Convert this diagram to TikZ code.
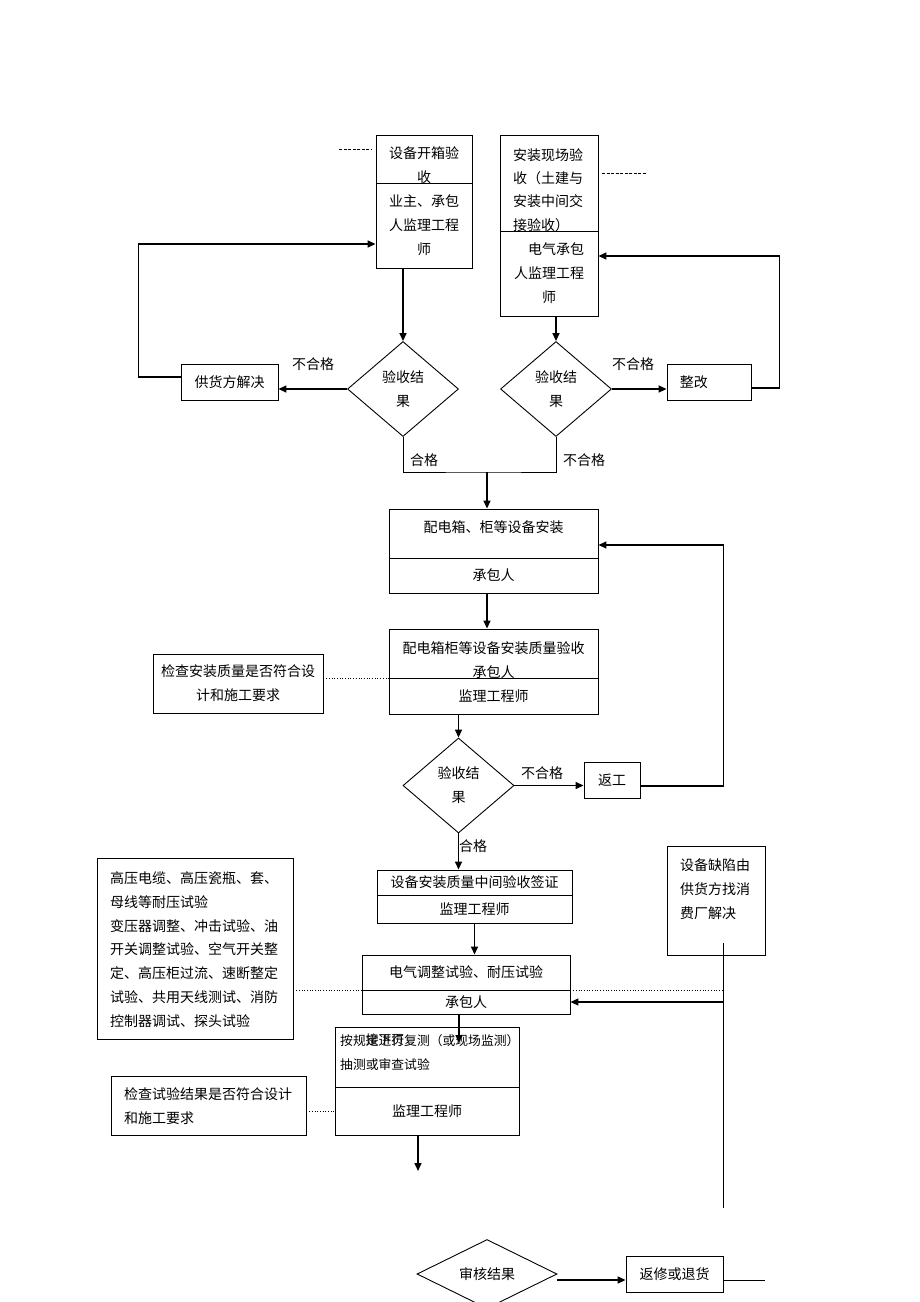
\documentclass[tikz,border=0pt]{standalone}
\usepackage{fontspec}
\newfontfamily\cjk{Noto Sans CJK SC}
\usetikzlibrary{shapes.geometric,arrows.meta}

\tikzset{
  box/.style={draw,line width=0.9pt,inner sep=0pt,align=center},
  dia/.style={draw,diamond,line width=0.9pt,inner sep=0pt,align=center},
  txt/.style={inner sep=0pt,align=center},
  arr/.style={line width=1.5pt,-{Triangle[length=8pt,width=7pt]}},
  ln/.style={line width=0.9pt},
  dotln/.style={line width=0.7pt,dotted},
  dashln/.style={line width=0.7pt,dash pattern=on 3pt off 1.5pt}
}

\begin{document}
\begin{tikzpicture}[x=1pt,y=-1pt,font=\cjk\fontsize{14}{24}\selectfont]
  \useasboundingbox (0,0) rectangle (920,1302);

  % acceptance at opening and on site
  \node[box,minimum width=96,minimum height=48] (aTop) at (424,159) {};
  \node[box,minimum width=96,minimum height=85] (aBot) at (424,225.5) {业主、承包\\人监理工程\\师};
  \node[txt] (aTxt) at (424,165) {设备开箱验\\收};
  \node[box,minimum width=98,minimum height=96] (bTop) at (549,183) {};
  \node[box,minimum width=98,minimum height=85] (bBot) at (549,273.5) {\hspace*{14pt}电气承包\\人监理工程\\师};
  \node[txt,align=left,anchor=west,font=\cjk\fontsize{14}{23.4}\selectfont] (bTxt) at (513,190) {安装现场验\\收（土建与\\安装中间交\\接验收）};
  \coordinate (dl) at (339,149);
  \coordinate (dr) at (602,173);
  \draw[dashln] (dl) -- ++(32,0);
  \draw[dashln] (dr) -- ++(44,0);

  \node[dia,minimum width=111,minimum height=95] (d1) at (403,389) {验收结\\果};
  \node[dia,minimum width=111,minimum height=95] (d2) at (556,389) {验收结\\果};
  \node[box,minimum width=97,minimum height=36] (sup) at (229.5,382) {供货方解决};
  \node[box,minimum width=84,minimum height=36] (fix) at (709,382) {};
  \node[txt,anchor=west] (fixTxt) at ([xshift=13pt]fix.west) {整改};

  \draw[arr] (aBot.south -| d1) -- (d1.north);
  \draw[arr] (bBot.south -| d2) -- (d2.north);
  \draw[arr] (d1.west) -- (d1.west -| sup.east);
  \draw[arr] (d2.east) -- (d2.east -| fix.west);
  \draw[arr] ([yshift=5pt]sup.west) -- ++(-42,0) |- ([yshift=-18.5pt]aBot.west);
  \draw[arr] ([yshift=-6pt]fix.east) -- ++(28,0) |- ([yshift=17.5pt]bBot.east);
  \node[txt] (n1) at (313,364) {不合格};
  \node[txt] (n2) at (633,364) {不合格};

  \coordinate (mrg) at (487,472);
  \draw[ln] (d1.south) |- (mrg) -| (d2.south);
  \node[txt] (p1) at (424,460) {合格};
  \node[txt] (n3) at (584,460) {不合格};

  % installation
  \node[box,minimum width=209,minimum height=49] (cTop) at (493.5,533.5) {};
  \node[box,minimum width=209,minimum height=35] (cBot) at (493.5,575.5) {承包人};
  \node[txt] (cTxt) at (493.5,527) {配电箱、柜等设备安装};
  \draw[arr] (mrg) -- (mrg |- cTop.north);
  \node[box,minimum width=209,minimum height=49] (dTop) at (493.5,653.5) {};
  \node[box,minimum width=209,minimum height=36] (dBot) at (493.5,696) {监理工程师};
  \node[txt] (dTxt) at (493.5,660) {配电箱柜等设备安装质量验收\\承包人};
  \draw[arr] (cBot.south -| mrg) -- (dTop.north -| mrg);
  \node[box,minimum width=170,minimum height=59] (chk1) at (238,683.5) {检查安装质量是否符合设\\计和施工要求};
  \draw[dotln] (chk1.east |- dTop.south) -- (dTop.south west);

  \node[dia,minimum width=111,minimum height=95] (d3) at (458.5,785.5) {验收结\\果};
  \node[box,minimum width=56,minimum height=36] (rw) at (612,780) {返工};
  \draw[arr] (dBot.south -| d3) -- (d3.north);
  \draw[arr] (d3.east) -- (d3.east -| rw.west);
  \draw[arr] ([yshift=-6pt]rw.east) -- ++(83,0) |- ([yshift=-11.5pt]cTop.east);
  \node[txt] (n4) at (542,773) {不合格};
  \node[txt] (p2) at (473,846) {合格};

  % intermediate sign-off and tests
  \node[box,minimum width=195,minimum height=25] (eTop) at (474.5,882.5) {设备安装质量中间验收签证};
  \node[box,minimum width=195,minimum height=28] (eBot) at (474.5,909) {监理工程师};
  \draw[arr] (d3.south) -- (d3.south |- eTop.north);
  \node[box,minimum width=208,minimum height=35] (fTop) at (466,972.5) {电气调整试验、耐压试验};
  \node[box,minimum width=208,minimum height=24] (fBot) at (466,1002) {承包人};
  \draw[arr] (eBot.south) -- (eBot.south |- fTop.north);

  \node[box,minimum width=196,minimum height=181] (tst) at (195,948.5) {};
  \node[txt,align=left,anchor=west,font=\cjk\fontsize{14}{23.8}\selectfont] (tstTxt) at (110,949.5)
    {高压电缆、高压瓷瓶、套、\\母线等耐压试验\\变压器调整、冲击试验、油\\开关调整试验、空气开关整\\定、高压柜过流、速断整定\\试验、共用天线测试、消防\\控制器调试、探头试验};
  \node[box,minimum width=98,minimum height=109] (dft) at (716,900.5) {};
  \node[txt,align=left,anchor=west] (dftTxt) at (680,889) {设备缺陷由\\供货方找消\\费厂解决};
  \coordinate (vtop) at (723,943);
  \coordinate (vbot) at (723,1208);
  \draw[ln] (vtop) -- (vbot);
  \draw[arr] (vtop |- fBot.east) -- (fBot.east);
  \draw[dotln] (tst.east |- fTop.south) -- (fTop.south west);
  \draw[dotln] (fTop.south east) -- (vtop |- fTop.south);

  \node[box,minimum width=184,minimum height=60] (iTop) at (427,1057) {};
  \node[box,minimum width=184,minimum height=48] (iBot) at (427,1111) {监理工程师};
  \node[txt,align=left,anchor=west,font=\cjk\fontsize{12.8}{24}\selectfont] (iTxt) at (340,1053) {按规定进行复测（或现场监测）\\抽测或审查试验};
  \node[txt,font=\cjk\fontsize{12.8}{24}\selectfont] (nxtTxt) at (385,1040) {接下页};
  \coordinate (nxt) at (459,1043);
  \draw[arr] (fBot.south -| nxt) -- (nxt);
  \node[box,minimum width=195,minimum height=59] (chk2) at (208.5,1105.5) {};
  \node[txt,align=left,anchor=west] (chk2Txt) at (124,1106) {检查试验结果是否符合设计\\和施工要求};
  \draw[dotln] (chk2.east |- iBot.west) -- (iBot.west);
  \coordinate (dn) at (418,1171);
  \draw[arr] (iBot.south -| dn) -- (dn);

  % review
  \node[dia,minimum width=140,minimum height=60] (d4) at (487,1274) {审核结果};
  \node[box,minimum width=97,minimum height=36] (rt) at (674.5,1274) {返修或退货};
  \draw[arr] ([yshift=-6pt]d4.east) -- ([yshift=-6pt]rt.west);
  \draw[ln] ([yshift=-6pt]rt.east) -- ++(42,0);
\end{tikzpicture}
\end{document}
